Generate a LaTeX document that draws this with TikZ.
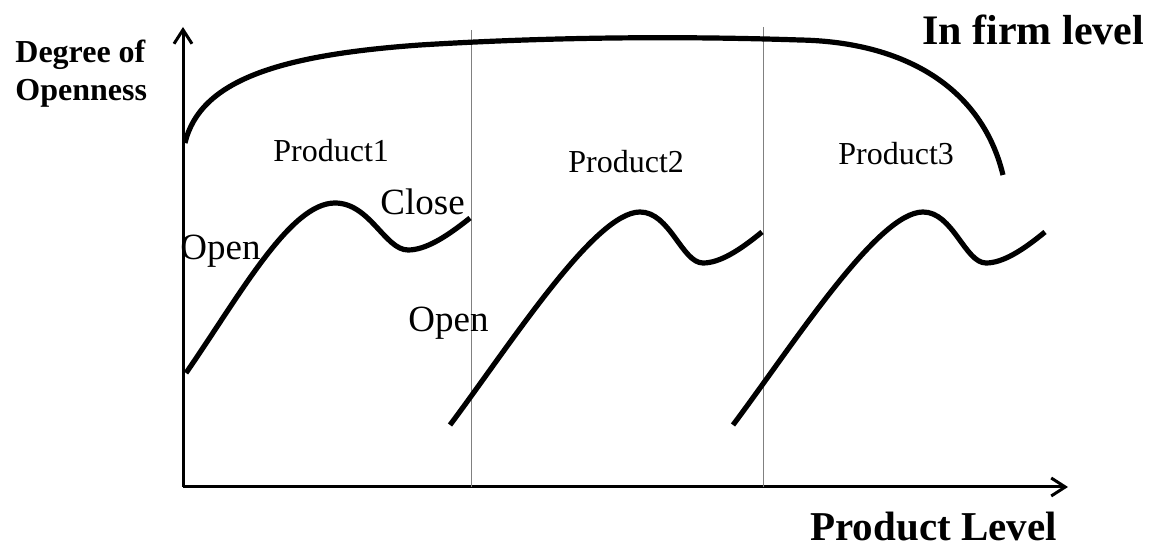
\documentclass[tikz,border=0pt]{standalone}
\usepackage{fontspec}
\setmainfont{Liberation Serif}
\usetikzlibrary{arrows.meta}
\begin{document}
\begin{tikzpicture}[x=0.5pt,y=-0.5pt,
  axis/.style={line width=1.5pt,-{Straight Barb[length=7pt,width=9pt,line width=1.5pt]}},
  thick curve/.style={line width=2.6pt},
  divider/.style={line width=0.5pt,gray},
  prodlabel/.style={anchor=base west,inner sep=0pt,font=\fontsize{16pt}{19pt}\selectfont},
  statelabel/.style={anchor=base west,inner sep=0pt,font=\fontsize{18.5pt}{22pt}\selectfont},
  boldlabel/.style={anchor=base west,inner sep=0pt,font=\bfseries}]
\useasboundingbox (0,0) rectangle (1153,549);
% axes
\coordinate (O) at (183,487);
\coordinate (Ytip) at (183,27);
\coordinate (Xtip) at (1068,487);
\draw[axis] (O) -- (Ytip);
\draw[axis] (O) -- (Xtip);
% dividers
\coordinate (d1t) at (471,30);
\coordinate (d1b) at (471,487);
\coordinate (d2t) at (763,27);
\coordinate (d2b) at (763,487);
\draw[divider] (d1t) -- (d1b);
\draw[divider] (d2t) -- (d2b);
% firm level curve
\draw[thick curve] (185,143) .. controls (200,80) and (280,55) .. (420,45)
  .. controls (550,37) and (680,36) .. (800,40)
  .. controls (905,42) and (982,88) .. (1003,175);
% product curves
\draw[thick curve] (186,373) .. controls (240,295) and (290,203) .. (335,203)
  .. controls (370,203) and (385,250) .. (408,250)
  .. controls (425,250) and (445,238) .. (470,218);
\foreach \s in {0,283}{
\draw[thick curve,xshift=\s*0.5pt] (450,425) .. controls (512,342) and (595,212) .. (640,212)
  .. controls (670,212) and (682,263) .. (703,263)
  .. controls (720,263) and (740,250) .. (762,232);
}
% labels
\node[boldlabel,font=\bfseries\fontsize{16pt}{19pt}\selectfont,align=left,anchor=north west] (ylab) at (15,40) {Degree of\\Openness};
\node[boldlabel,font=\bfseries\fontsize{21pt}{25pt}\selectfont] (firm) at (922,45) {In firm level};
\node[boldlabel,font=\bfseries\fontsize{20.5pt}{24pt}\selectfont] (xlab) at (810,541) {Product Level};
\node[prodlabel] (p1) at (273,162) {Product1};
\node[prodlabel] (p2) at (568,173) {Product2};
\node[prodlabel] (p3) at (838,165) {Product3};
\node[statelabel] (close) at (380,215) {Close};
\node[statelabel] (open1) at (180,260) {Open};
\node[statelabel] (open2) at (408,332) {Open};
\end{tikzpicture}
\end{document}
